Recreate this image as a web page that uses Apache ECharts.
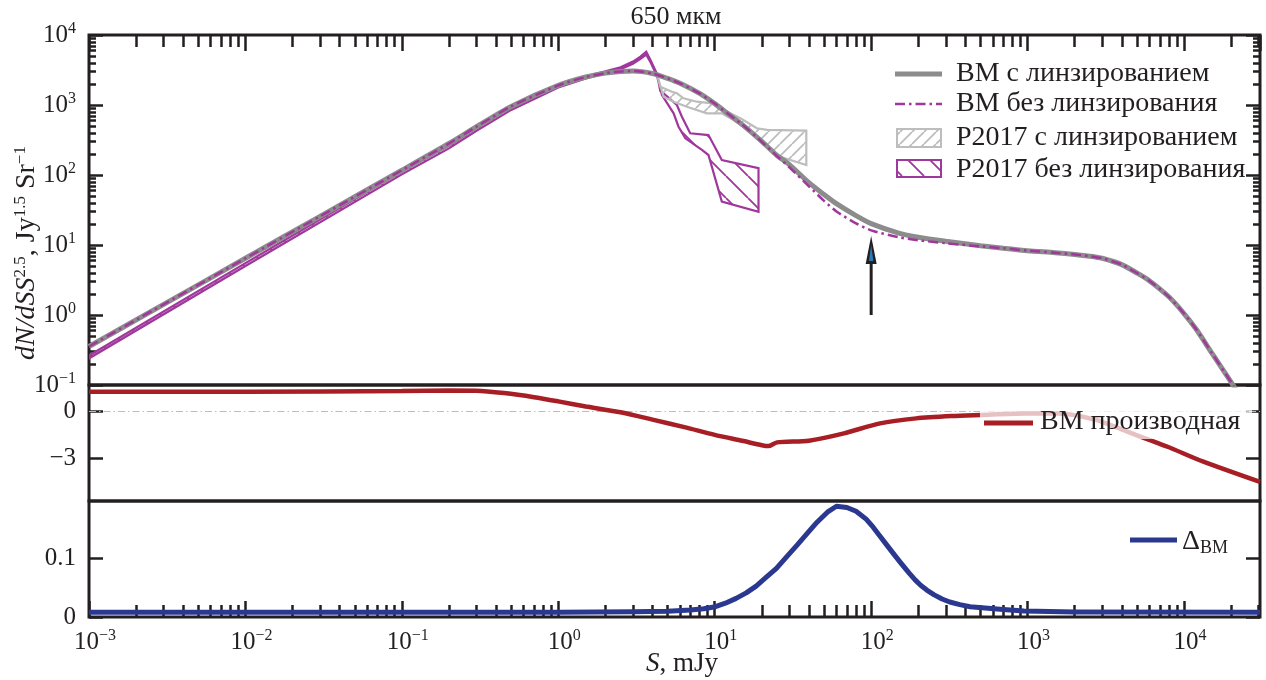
<!DOCTYPE html>
<html><head><meta charset="utf-8">
<script src="https://cdn.jsdelivr.net/npm/echarts@6/dist/echarts.min.js"></script>
<style>html,body{margin:0;padding:0;background:#fff}#c{width:1266px;height:680px}</style>
</head><body><div id="c"></div>
<script>
// ---------------- data ----------------
const fluxS      = [0.001,0.003,0.01,0.03,0.1,0.2,0.3,0.5,1,1.5,2,2.5,3,4,5,6,8,10,12,15,20,25,30,40,50,60,80,100,150,200,300,500,700,1000,1500,2000,2500,3000,4000,5000,6000,8000,10000,12000,15000,20000,25000];
const bmLensed   = [0.355,1.42,6.46,25.7,117,282,490,955,1905,2512,2851,3020,3055,2818,2399,2042,1462,1047,767,525,302,190,141,77.6,52.5,38.9,26.3,20.2,14.8,12.9,11.3,9.77,9.0,8.3,7.76,7.33,6.92,6.46,5.25,3.98,3.09,1.82,1.05,0.62,0.29,0.11,0.05];
const bmUnlensed = [0.355,1.42,6.46,25.7,117,282,490,955,1905,2512,2851,3020,3055,2818,2399,2042,1462,1047,767,525,298,186,129,69,42.7,30.2,20.4,16.2,12.9,11.7,10.6,9.55,9.0,8.3,7.76,7.33,6.92,6.46,5.25,3.98,3.09,1.82,1.05,0.62,0.29,0.11,0.05];

// P2017 without lensing (band edges)
const p17nlUpS = [0.001,0.01,0.1,0.2,0.3,0.5,1,1.5,2,2.5,3,3.35,3.65,3.87,4.28,4.49,4.71,5.73,6.17,6.97,9.12,11.1,19.05];
const p17nlUpV = [0.263,5.5,112,263,468,933,1905,2570,3020,3467,4169,4898,5754,4467,2754,1585,1469,1000,681,394,372,164,125];
const p17nlLoS = [0.001,0.01,0.1,0.2,0.3,0.5,1,1.5,2,2.5,3,3.35,3.65,3.87,4.28,4.6,5.46,5.87,6.49,8.28,9.12,11.1,19.05];
const p17nlLoV = [0.24,5.0,102,240,427,851,1778,2399,2818,3236,3890,4571,5248,4169,2570,1390,760,490,334,228,193,41.6,29.9];

// P2017 with lensing (band edges)
const p17lUpS = [4.28,4.49,5.33,5.73,6.32,7.69,9.59,11.4,14.6,18.6,21.6,38.5];
const p17lUpV = [2692,1824,1549,1469,1247,1114,1057,849,646,465,440,430];
const p17lLoS = [4.28,4.71,5.46,6.64,8.91,11.1,13.2,16.9,21.6,26.2,38.5];
const p17lLoV = [2692,1315,1114,946,760,760,611,416,269,182,139];

// arrow marker at S = 100 mJy
const arrowS = [100], arrowFrom = [1], arrowTo = [13.5];

// derivative panel
const derivS = [0.001,0.01,0.1,0.2,0.3,0.45,0.7,1,1.5,2.5,4,6.5,10,15,20,22,25,40,67,114,194,328,500,950,1600,2730,4630,7850,13300,30600];
const derivV = [1.26,1.27,1.31,1.34,1.33,1.18,0.92,0.65,0.32,-0.05,-0.52,-1.02,-1.5,-1.88,-2.16,-2.22,-1.98,-1.87,-1.40,-0.76,-0.44,-0.29,-0.22,-0.12,-0.12,-0.54,-1.40,-2.26,-3.22,-4.52];

// Delta panel
const deltaS = [0.001,1,3,5,7,8.5,9.9,11.7,13.7,15.9,18.4,21.1,24.8,28.6,33.4,38.9,45.1,52.5,60,70,80.1,92.9,103,114,126,138,155,175,191,208,228,253,284,318,369,429,667,947,2000,30600];
const deltaV = [0.008,0.008,0.009,0.010,0.012,0.014,0.017,0.0235,0.0318,0.0412,0.0528,0.0666,0.0829,0.1017,0.1218,0.1422,0.1618,0.1789,0.189,0.187,0.1806,0.167,0.1533,0.138,0.1227,0.109,0.092,0.075,0.0634,0.0537,0.0455,0.0378,0.0307,0.0256,0.0211,0.0175,0.0131,0.0102,0.0085,0.008];

// ticks
const xMajorTicks = [0.001,0.01,0.1,1,10,100,1000,10000];
const yMajorTicks = [0.1,1,10,100,1000,10000];
const derivTicks = [0,-3];
const deltaTicks = [0,0.1];
const xMin = 0.001, xMax = 30600, yMin = 0.1, yMax = 10000;

// ---------------- helpers ----------------
const SERIF = '"Liberation Serif","DejaVu Serif",serif';
const INK = '#231f20';
const GRAY = '#8c8c8c', PURPLE = '#a0379c', BAND_GRAY = '#bdbdbd', RED = '#a81e25', BLUE = '#2b3890';
function minorsOf(majors, max){const o=[];majors.forEach(m=>{for(let k=2;k<=9;k++){const v=+(m*k).toPrecision(3);if(v<=max)o.push(v);}});return o;}
const xMinor = minorsOf(xMajorTicks, xMax);
const yMinor = minorsOf(yMajorTicks, yMax);
function zip(a,b){return a.map((v,i)=>[v,b[i]]);}
function hatch(color, dir, P, lw){
  const c=document.createElement('canvas');c.width=c.height=P;const g=c.getContext('2d');
  g.strokeStyle=color;g.lineWidth=lw;g.beginPath();
  for(const o of [-P,0,P]){ if(dir==='/'){g.moveTo(o,P);g.lineTo(o+P,0);} else {g.moveTo(o,0);g.lineTo(o+P,P);} }
  g.stroke(); return c;
}
const grayHatch = {image: hatch(BAND_GRAY,'/',12,1.8), repeat:'repeat'};
const purpleHatch = {image: hatch(PURPLE,'\\',22,1.8), repeat:'repeat'};
function pow10Label(v){const e=Math.round(Math.log10(v));return '{b|10}{s|'+(e<0?'\u2212'+(-e):e)+'}';}
const powRich = {
  b:{fontFamily:SERIF,fontSize:25,color:INK,lineHeight:28},
  s:{fontFamily:SERIF,fontSize:16,color:INK,verticalAlign:'top',lineHeight:10}
};
function bandRender(upS,upV,loS,loV,fill,stroke){
  return function(params, api){
    const pts=[];
    for(let i=0;i<upS.length;i++) pts.push(api.coord([upS[i],upV[i]]));
    for(let i=loS.length-1;i>=0;i--) pts.push(api.coord([loS[i],loV[i]]));
    return {type:'polygon',shape:{points:pts},style:{fill:fill,stroke:stroke,lineWidth:2.2,lineJoin:'miter'}};
  };
}
const G = {left:89, right:6};
const baseX = (grid, extra) => Object.assign({type:'log', logBase:10, gridIndex:grid, min:xMin, max:xMax,
  axisLine:{show:false}, splitLine:{show:false}, minorTick:{show:false}, minorSplitLine:{show:false},
  axisTick:{show:false}, axisLabel:{show:false}}, extra);
const TXT = (x,y,text,size,extra) => Object.assign({type:'text',x:x,y:y,z:100,
  style:{text:text,fontFamily:SERIF,fontSize:size,fill:INK,verticalAlign:'middle'}}, extra||{});

const chart = echarts.init(document.getElementById('c'));
chart.setOption({
  animation:false,
  backgroundColor:'#fff',
  grid:[
    {left:G.left,right:G.right,top:35,height:350,show:true,borderColor:INK,borderWidth:3,backgroundColor:'transparent'},
    {left:G.left,right:G.right,top:385,height:116,show:true,borderColor:INK,borderWidth:3,backgroundColor:'transparent'},
    {left:G.left,right:G.right,top:501,height:116,show:true,borderColor:INK,borderWidth:3,backgroundColor:'transparent'}
  ],
  xAxis:[
    baseX(0,{position:'top', interval:1, axisTick:{show:true,inside:true,length:16,lineStyle:{color:INK,width:2.5}}}),
    baseX(1,{position:'bottom'}),
    baseX(2,{position:'bottom', interval:1, axisTick:{show:true,inside:true,length:16,lineStyle:{color:INK,width:2.5}},
      axisLabel:{show:true,margin:11,showMaxLabel:false,formatter:pow10Label,rich:powRich,padding:[0,0,0,12]}}),
    baseX(0,{position:'top', axisTick:{show:true,inside:true,length:12,customValues:xMinor,lineStyle:{color:INK,width:2.5}}}),
    baseX(2,{position:'bottom', axisTick:{show:true,inside:true,length:12,customValues:xMinor,lineStyle:{color:INK,width:2.5}}})
  ],
  yAxis:[
    {type:'log',logBase:10,gridIndex:0,min:yMin,max:yMax,interval:1,position:'left',axisLine:{show:false},splitLine:{show:false},
      axisTick:{show:true,inside:true,length:14,lineStyle:{color:INK,width:2.5}},
      axisLabel:{show:true,margin:13,formatter:pow10Label,rich:powRich}},
    {type:'log',logBase:10,gridIndex:0,min:yMin,max:yMax,interval:1,position:'right',axisLine:{show:false},splitLine:{show:false},
      axisTick:{show:true,inside:true,length:14,lineStyle:{color:INK,width:2.5}},axisLabel:{show:false}},
    {type:'log',logBase:10,gridIndex:0,min:yMin,max:yMax,position:'left',axisLine:{show:false},splitLine:{show:false},
      axisTick:{show:true,inside:true,length:7,customValues:yMinor,lineStyle:{color:INK,width:2.5}},axisLabel:{show:false}},
    {type:'log',logBase:10,gridIndex:0,min:yMin,max:yMax,position:'right',axisLine:{show:false},splitLine:{show:false},
      axisTick:{show:true,inside:true,length:7,customValues:yMinor,lineStyle:{color:INK,width:2.5}},axisLabel:{show:false}},
    {type:'value',gridIndex:1,min:-5.74,max:1.7,position:'left',axisLine:{show:false},splitLine:{show:false},
      axisTick:{show:true,inside:true,length:14,customValues:derivTicks,lineStyle:{color:INK,width:2.5}},
      axisLabel:{show:true,margin:13,customValues:derivTicks,fontFamily:SERIF,fontSize:25,color:INK,
        formatter:v=>v===0?'0':'\u2212'+Math.abs(v)}},
    {type:'value',gridIndex:1,min:-5.74,max:1.7,position:'right',axisLine:{show:false},splitLine:{show:false},
      axisTick:{show:true,inside:true,length:14,customValues:derivTicks,lineStyle:{color:INK,width:2.5}},axisLabel:{show:false}},
    {type:'value',gridIndex:2,min:0,max:0.198,position:'left',axisLine:{show:false},splitLine:{show:false},
      axisTick:{show:true,inside:true,length:14,customValues:deltaTicks,lineStyle:{color:INK,width:2.5}},
      axisLabel:{show:true,margin:13,customValues:deltaTicks,fontFamily:SERIF,fontSize:25,color:INK,
        formatter:v=>v===0?'0':String(v)}},
    {type:'value',gridIndex:2,min:0,max:0.198,position:'right',axisLine:{show:false},splitLine:{show:false},
      axisTick:{show:true,inside:true,length:14,customValues:deltaTicks,lineStyle:{color:INK,width:2.5}},axisLabel:{show:false}}
  ],
  series:[
    {type:'custom',name:'P2017 без линзирования',xAxisIndex:0,yAxisIndex:0,data:[[1,100]],clip:true,
      renderItem:bandRender(p17nlUpS,p17nlUpV,p17nlLoS,p17nlLoV,purpleHatch,PURPLE)},
    {type:'custom',name:'P2017 с линзированием',xAxisIndex:0,yAxisIndex:0,data:[[1,100]],clip:true,
      renderItem:bandRender(p17lUpS,p17lUpV,p17lLoS,p17lLoV,grayHatch,BAND_GRAY)},
    {type:'line',name:'ВМ с линзированием',xAxisIndex:0,yAxisIndex:0,data:zip(fluxS,bmLensed),showSymbol:false,smooth:0.25,
      lineStyle:{color:GRAY,width:5},clip:true},
    {type:'line',name:'ВМ без линзирования',xAxisIndex:0,yAxisIndex:0,data:zip(fluxS,bmUnlensed),showSymbol:false,smooth:0.25,
      lineStyle:{color:PURPLE,width:2.5,type:[10,4,2.5,4]},clip:true},
    {type:'custom',name:'arrow',xAxisIndex:0,yAxisIndex:0,data:arrowS.map((s,i)=>[s,arrowFrom[i],arrowTo[i]]),
      renderItem:function(params,api){
        const p0=api.coord([api.value(0),api.value(1)]), p1=api.coord([api.value(0),api.value(2)]);
        const x=p1[0], y=p1[1];
        return {type:'group',children:[
          {type:'line',shape:{x1:p0[0],y1:p0[1],x2:x,y2:y+22},style:{stroke:INK,lineWidth:3}},
          {type:'polygon',shape:{points:[[x,y],[x-5.5,y+28],[x+5.5,y+28]]},style:{fill:INK}},
          {type:'polygon',shape:{points:[[x,y+9],[x-2.2,y+25],[x+2.2,y+25]]},style:{fill:'#2a7ab8'}}
        ]};
      }},
    {type:'line',name:'zero',xAxisIndex:1,yAxisIndex:4,data:[[xMin,0],[xMax,0]],showSymbol:false,
      lineStyle:{color:'#bdbdbd',width:1.2,type:[7,3,1.5,3]}},
    {type:'line',name:'ВМ производная',xAxisIndex:1,yAxisIndex:4,data:zip(derivS,derivV),showSymbol:false,smooth:0.25,
      lineStyle:{color:RED,width:4.5},clip:true},
    {type:'line',name:'Delta',xAxisIndex:2,yAxisIndex:6,data:zip(deltaS,deltaV),showSymbol:false,smooth:false,
      lineStyle:{color:BLUE,width:5,join:'round'},clip:true}
  ],
  graphic:[
    TXT(676,17,'650 мкм',26,{style:{text:'650 мкм',fontFamily:SERIF,fontSize:26,fill:INK,align:'center',verticalAlign:'middle'}}),
    {type:'text',x:27,y:253,rotation:Math.PI/2,z:100,style:{
      text:'{i|dN/dSS}{s|2.5}{n|, Jy}{s|1.5}{n| Sr}{s|\u22121}',align:'center',verticalAlign:'middle',
      rich:{i:{fontFamily:SERIF,fontStyle:'italic',fontSize:28,fill:INK,lineHeight:30},
            n:{fontFamily:SERIF,fontSize:28,fill:INK,lineHeight:30},
            s:{fontFamily:SERIF,fontSize:17,fill:INK,verticalAlign:'top',lineHeight:12}}}},
    {type:'text',x:682,y:664,z:100,style:{text:'{i|S}{n|, mJy}',align:'center',verticalAlign:'middle',
      rich:{i:{fontFamily:SERIF,fontStyle:'italic',fontSize:27,fill:INK},n:{fontFamily:SERIF,fontSize:27,fill:INK}}}},
    // top legend
    {type:'line',shape:{x1:895,y1:74,x2:942,y2:74},style:{stroke:GRAY,lineWidth:5},z:100},
    {type:'line',shape:{x1:895,y1:104,x2:942,y2:104},style:{stroke:PURPLE,lineWidth:2.5,lineDash:[10,4,2.5,4]},z:100},
    {type:'rect',shape:{x:897,y:129,width:44,height:18},style:{fill:grayHatch,stroke:BAND_GRAY,lineWidth:2},z:100},
    {type:'rect',shape:{x:897,y:160,width:44,height:17},style:{fill:purpleHatch,stroke:PURPLE,lineWidth:2},z:100},
    TXT(956,74,'ВМ с линзированием',28),
    TXT(956,104,'ВМ без линзирования',28),
    TXT(956,138,'P2017 с линзированием',28),
    TXT(956,170,'P2017 без линзирования',28),
    // middle legend
    {type:'rect',shape:{x:980,y:399,width:272,height:40},style:{fill:'rgba(255,255,255,0.72)'},z:90},
    {type:'line',shape:{x1:984,y1:423,x2:1033,y2:423},style:{stroke:RED,lineWidth:5},z:100},
    TXT(1040,422,'ВМ производная',28),
    // bottom legend
    {type:'line',shape:{x1:1130,y1:540,x2:1177,y2:540},style:{stroke:BLUE,lineWidth:5},z:100},
    {type:'text',x:1182,y:542,z:100,style:{text:'{d|\u0394}{s|ВМ}',verticalAlign:'middle',
      rich:{d:{fontFamily:SERIF,fontSize:28,fill:INK,lineHeight:30},s:{fontFamily:SERIF,fontSize:18,fill:INK,verticalAlign:'bottom',lineHeight:16}}}}
  ]
});
</script></body></html>
